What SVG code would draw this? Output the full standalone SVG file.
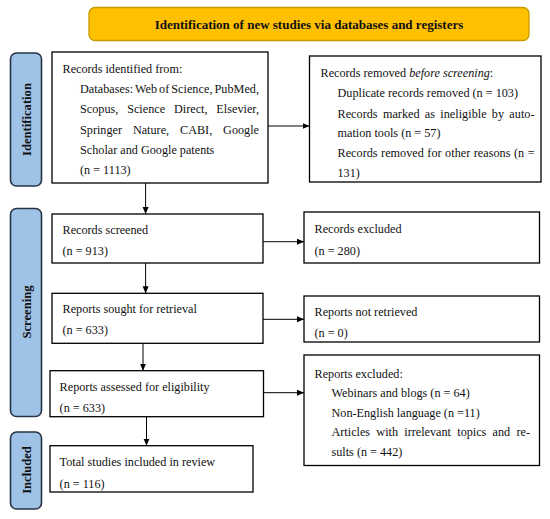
<svg xmlns="http://www.w3.org/2000/svg" width="550" height="519" viewBox="0 0 550 519">
<defs>
<marker id="ah" markerUnits="userSpaceOnUse" markerWidth="8" markerHeight="8" refX="7" refY="3" orient="auto"><path d="M0,0 L7,3 L0,6 z" fill="#000"/></marker>
<style>
.box{fill:#fff;stroke:#000;stroke-width:1.3}
.lab{fill:#9FC2E7;stroke:#263445;stroke-width:1.6}
.ttl{fill:#FFC000;stroke:#C89A00;stroke-width:1.3}
text{font-family:"Liberation Serif","DejaVu Serif",serif;font-size:12.2px;fill:#111}
.b{font-weight:bold;font-size:13px}
.lt{font-weight:bold;font-size:12.6px;text-anchor:middle}
.con line{stroke:#000;stroke-width:1;marker-end:url(#ah)}
</style>
</defs>
<rect width="550" height="519" fill="#fff"/>
<g id="title">
<rect class="ttl" x="89" y="7.5" width="440" height="33" rx="6"/>
<text class="b" x="309" y="29.3" text-anchor="middle">Identification of new studies via databases and registers</text>
</g>
<g id="label-identification">
<rect class="lab" x="10.5" y="53" width="31" height="133" rx="6"/>
<text class="lt" transform="translate(30.5,119.5) rotate(-90)">Identification</text>
</g>
<g id="label-screening">
<rect class="lab" x="10.5" y="208.5" width="31" height="208" rx="6"/>
<text class="lt" transform="translate(30.5,312) rotate(-90)">Screening</text>
</g>
<g id="label-included">
<rect class="lab" x="10.5" y="432" width="31" height="77" rx="6"/>
<text class="lt" transform="translate(30.5,470) rotate(-90)">Included</text>
</g>
<g id="records-identified">
<rect class="box" x="52" y="52" width="216" height="131"/>
<text x="62.5" y="72.5">Records identified from:</text>
<text x="80" y="92.5" word-spacing="-1.1" textLength="179" lengthAdjust="spacing">Databases: Web of Science, PubMed,</text>
<text x="80" y="113" word-spacing="5.7" textLength="179" lengthAdjust="spacing">Scopus, Science Direct, Elsevier,</text>
<text x="80" y="133.5" word-spacing="7.8" textLength="179" lengthAdjust="spacing">Springer Nature, CABI, Google</text>
<text x="80" y="153.5">Scholar and Google patents</text>
<text x="80" y="174">(n = 1113)</text>
</g>
<g id="records-removed">
<rect class="box" x="309.5" y="56" width="231.5" height="126"/>
<text x="320.5" y="77">Records removed <tspan font-style="italic">before screening</tspan>:</text>
<text x="337.5" y="97">Duplicate records removed (n = 103)</text>
<text x="337.5" y="117.5" word-spacing="2.2" textLength="197" lengthAdjust="spacing">Records marked as ineligible by auto-</text>
<text x="337.5" y="137">mation tools (n = 57)</text>
<text x="337.5" y="157" word-spacing="0.4" textLength="197" lengthAdjust="spacing">Records removed for other reasons (n =</text>
<text x="337.5" y="177">131)</text>
</g>
<g id="records-screened">
<rect class="box" x="52" y="214" width="211" height="49"/>
<text x="62.5" y="234.3">Records screened</text>
<text x="62.5" y="255.3">(n = 913)</text>
</g>
<g id="records-excluded">
<rect class="box" x="304" y="212" width="235.5" height="51"/>
<text x="314.5" y="232.5">Records excluded</text>
<text x="314.5" y="255.3">(n = 280)</text>
</g>
<g id="reports-sought">
<rect class="box" x="52" y="293.3" width="211" height="50"/>
<text x="62.5" y="313.3">Reports sought for retrieval</text>
<text x="62.5" y="334.3">(n = 633)</text>
</g>
<g id="reports-not-retrieved">
<rect class="box" x="304" y="296" width="235.5" height="46"/>
<text x="314.5" y="316">Reports not retrieved</text>
<text x="314.5" y="336.5">(n = 0)</text>
</g>
<g id="reports-assessed">
<rect class="box" x="50" y="370.7" width="213.5" height="46"/>
<text x="59.6" y="391">Reports assessed for eligibility</text>
<text x="59.6" y="411.5">(n = 633)</text>
</g>
<g id="reports-excluded">
<rect class="box" x="304" y="355" width="235.5" height="110.5"/>
<text x="314.5" y="377.5">Reports excluded:</text>
<text x="331.5" y="397">Webinars and blogs (n = 64)</text>
<text x="331.5" y="416.5">Non-English language (n =11)</text>
<text x="331.5" y="436" word-spacing="3.2" textLength="198.5" lengthAdjust="spacing">Articles with irrelevant topics and re-</text>
<text x="331.5" y="456">sults (n = 442)</text>
</g>
<g id="total-included">
<rect class="box" x="50" y="445.7" width="203" height="46.3"/>
<text x="59.6" y="466">Total studies included in review</text>
<text x="59.6" y="487.5">(n = 116)</text>
</g>
<g id="connectors" class="con">
<line x1="268" y1="126" x2="309.5" y2="126"/>
<line x1="145.6" y1="183" x2="145.6" y2="214"/>
<line x1="263" y1="241.7" x2="304" y2="241.7"/>
<line x1="145.6" y1="263" x2="145.6" y2="293.3"/>
<line x1="263" y1="319.3" x2="304" y2="319.3"/>
<line x1="143" y1="343.3" x2="143" y2="370.7"/>
<line x1="263.5" y1="392.7" x2="304" y2="392.7"/>
<line x1="146.5" y1="416.7" x2="146.5" y2="445.7"/>
</g>
</svg>
